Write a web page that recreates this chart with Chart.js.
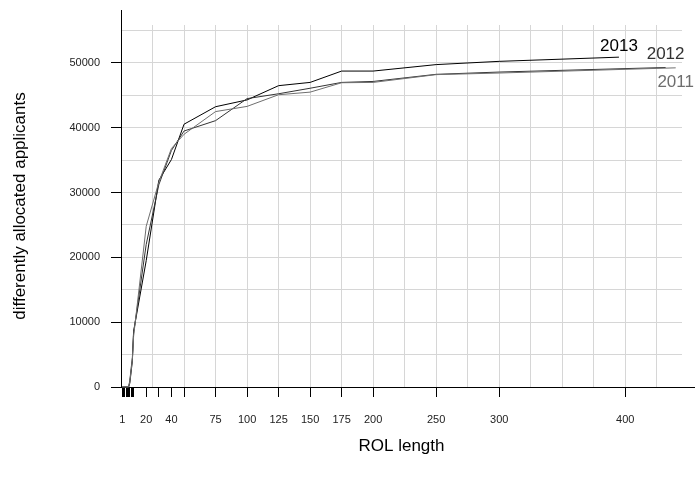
<!DOCTYPE html>
<html>
<head>
<meta charset="utf-8">
<script src="https://cdn.jsdelivr.net/npm/chart.js@4"></script>
<style>
  html, body { margin: 0; padding: 0; background: #fff; }
  #wrap { width: 695px; height: 483px; }
</style>
</head>
<body>
<div id="wrap"><canvas id="c" width="695" height="483"></canvas></div>
<script>
// ---- data ----
const rolLength = [1, 2, 3, 4, 5, 6, 7, 8, 9, 10, 20, 30, 40, 50, 75, 100, 125, 150, 175, 200, 250, 300];
const seriesNames = ['2011', '2012', '2013'];
const values2011 = [0, 0, 0, 0, 0, 0, 800, 2500, 4200, 7800, 24800, 31600, 36800, 39000, 42500, 43300, 45100, 45500, 46950, 47000, 48200, 48450];
const values2012 = [0, 0, 0, 0, 0, 0, 1000, 2800, 4500, 8300, 22000, 31200, 36500, 39500, 41100, 44500, 45250, 46100, 47000, 47150, 48250, 48600];
const values2013 = [0, 0, 0, 0, 0, 0, 600, 2300, 4000, 8600, 19500, 31900, 35100, 40550, 43250, 44300, 46500, 47000, 48750, 48750, 49750, 50250];
const lastLength = [440, 432, 395];
const lastValue = [49250, 49300, 50900];
const xTickValues = [1, 2, 3, 4, 5, 6, 7, 8, 9, 10, 20, 30, 40, 50, 75, 100, 125, 150, 175, 200, 250, 300, 400];
const xTickLabels = [1, 20, 40, 75, 100, 125, 150, 175, 200, 250, 300, 400];
const xGridValues = [25, 50, 75, 100, 125, 150, 175, 200, 225, 250, 275, 300, 325, 350, 375, 400, 425];
const yTickValues = [0, 5000, 10000, 15000, 20000, 25000, 30000, 35000, 40000, 45000, 50000, 55000];
const yTickLabels = [0, 10000, 20000, 30000, 40000, 50000];

// ---- styles ----
const seriesColors = ['#6e6e6e', '#333333', '#000000'];
const labelOffsetsY = [14, -13, -11];
const gridColor = '#d6d6d6';
const FONT = '"Liberation Sans", Arial, Helvetica, sans-serif';

const allValues = [values2011, values2012, values2013];
const datasets = seriesNames.map((name, i) => {
  const pts = rolLength.map((x, j) => ({ x: x, y: allValues[i][j] }));
  pts.push({ x: lastLength[i], y: lastValue[i] });
  return {
    label: name,
    data: pts,
    borderColor: seriesColors[i],
    backgroundColor: seriesColors[i],
    borderWidth: 1,
    pointRadius: 0,
    tension: 0,
    fill: false,
    clip: false
  };
});

const extrasPlugin = {
  id: 'extras',
  afterDraw(chart) {
    const ctx = chart.ctx;
    const xs = chart.scales.x, ys = chart.scales.y;
    const ca = chart.chartArea;
    ctx.save();
    ctx.strokeStyle = '#000';
    ctx.lineWidth = 1;
    // extend y axis line upward and x axis line to the right
    const ax = Math.floor(xs.getPixelForValue(0)) + 0.5;
    const ay = Math.floor(ys.getPixelForValue(0)) + 0.5;
    ctx.beginPath();
    ctx.moveTo(ax, ca.top - 15);
    ctx.lineTo(ax, ca.top + 1);
    ctx.moveTo(ca.right - 1, ay);
    ctx.lineTo(chart.width, ay);
    ctx.stroke();
    // series labels at line ends
    ctx.font = '17px ' + FONT;
    ctx.textAlign = 'center';
    ctx.textBaseline = 'middle';
    chart.data.datasets.forEach((ds, i) => {
      const meta = chart.getDatasetMeta(i);
      const pt = meta.data[meta.data.length - 1];
      ctx.fillStyle = seriesColors[i];
      ctx.fillText(ds.label, pt.x, pt.y + labelOffsetsY[i]);
    });
    ctx.restore();
  }
};

new Chart(document.getElementById('c'), {
  type: 'line',
  data: { datasets: datasets },
  options: {
    responsive: false,
    animation: false,
    layout: { padding: { top: 25, right: 13, left: 0, bottom: 0 } },
    plugins: { legend: { display: false }, tooltip: { enabled: false } },
    scales: {
      x: {
        type: 'linear',
        min: 0,
        max: 445,
        afterBuildTicks: (scale) => {
          const vals = Array.from(new Set(xTickValues.concat(xGridValues))).sort((a, b) => a - b);
          scale.ticks = vals.map(v => ({ value: v }));
        },
        afterFit: (scale) => { scale.height = 96; },
        grid: {
          drawTicks: true,
          tickLength: 10,
          lineWidth: 1,
          color: (c) => (c.tick && xGridValues.includes(c.tick.value)) ? gridColor : 'rgba(0,0,0,0)',
          tickColor: (c) => (c.tick && xTickValues.includes(c.tick.value)) ? '#000' : 'rgba(0,0,0,0)',
          tickWidth: 1
        },
        border: { display: true, color: '#000', width: 1 },
        ticks: {
          autoSkip: false,
          maxRotation: 0,
          minRotation: 0,
          padding: 16,
          color: '#222',
          font: { family: FONT, size: 11 },
          callback: (v) => xTickLabels.includes(v) ? String(v) : ''
        },
        title: {
          display: true,
          text: 'ROL length',
          color: '#000',
          font: { family: FONT, size: 17 },
          padding: { top: 0, bottom: 26 }
        }
      },
      y: {
        type: 'linear',
        min: 0,
        max: 55860,
        afterBuildTicks: (scale) => { scale.ticks = yTickValues.map(v => ({ value: v })); },
        afterFit: (scale) => { scale.width = 121; },
        grid: {
          drawTicks: true,
          tickLength: 10,
          lineWidth: 1,
          color: (c) => (c.tick && c.tick.value > 0) ? gridColor : 'rgba(0,0,0,0)',
          tickColor: (c) => (c.tick && yTickLabels.includes(c.tick.value)) ? '#000' : 'rgba(0,0,0,0)',
          tickWidth: 1
        },
        border: { display: true, color: '#000', width: 1 },
        ticks: {
          autoSkip: false,
          padding: 11,
          color: '#222',
          font: { family: FONT, size: 11 },
          callback: (v) => yTickLabels.includes(v) ? String(v) : ''
        },
        title: {
          display: true,
          text: 'differently allocated applicants',
          color: '#000',
          font: { family: FONT, size: 17 },
          padding: { top: 10, bottom: 0 }
        }
      }
    }
  },
  plugins: [extrasPlugin]
});
</script>
</body>
</html>
